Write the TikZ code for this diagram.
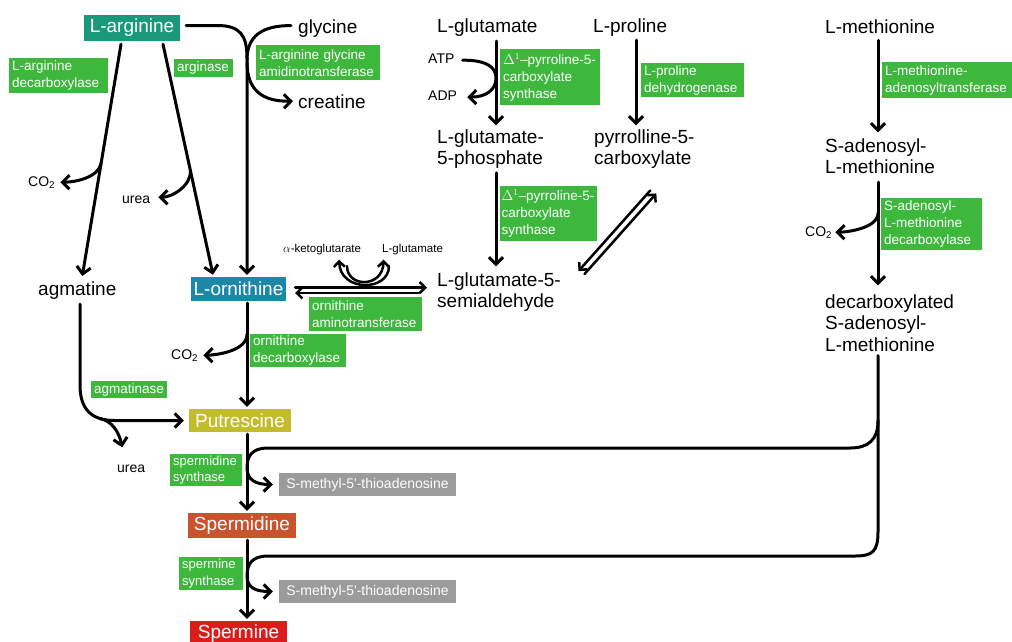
\documentclass[tikz,border=0pt]{standalone}
\usepackage{fontspec}
\setmainfont{Liberation Sans}
\usetikzlibrary{arrows.meta,calc}
\definecolor{enzg}{HTML}{3DB83D}
\definecolor{argc}{HTML}{1B977A}
\definecolor{ornc}{HTML}{1C88A6}
\definecolor{putc}{HTML}{C3BC2B}
\definecolor{spdc}{HTML}{C9532C}
\definecolor{spmc}{HTML}{DE1B1B}
\definecolor{mtac}{HTML}{9B9B9B}
\begin{document}
\begin{tikzpicture}[x=1pt,y=-1pt,
  ln/.style={line width=3pt, line cap=round},
  arr/.style={ln, -{Straight Barb[length=7pt,width=14pt]}},
  sarr/.style={line width=2.5pt, line cap=round, -{Straight Barb[length=5.5pt,width=11pt]}},
  met/.style={font=\fontsize{19}{21.5}\selectfont, inner sep=0pt, align=left},
  sm/.style={font=\fontsize{14}{16}\selectfont, inner sep=0pt},
  tiny/.style={font=\fontsize{11.5}{13}\selectfont, inner sep=0pt},
  cbox/.style={text=white, font=\fontsize{19}{21}\selectfont, inner sep=0pt},
  mtabox/.style={fill=mtac, text=white, font=\fontsize{14}{16}\selectfont, inner sep=0pt, minimum width=177pt, minimum height=23pt},
  enz/.style={fill=enzg, text=white, font=\fontsize{13.5}{17}\selectfont, align=left, inner xsep=3pt, inner ysep=0pt, anchor=north west},
]
\fill[white] (0,0) rectangle (1012,641);
\useasboundingbox (0,0) rectangle (1012,641);

% ---------- metabolites ----------
\node[cbox, fill=argc, minimum width=96pt, minimum height=26pt] (arg) at (132,28) {L-arginine};
\node[met, anchor=base west] (gly) at (298,33) {glycine};
\node[met, anchor=base west] (cre) at (298,108) {creatine};
\node[met, anchor=base west] (agm) at (38,295) {agmatine};
\node[cbox, fill=ornc, minimum width=95pt, minimum height=24pt] (orn) at (238.5,289) {L-ornithine};
\node[cbox, fill=putc, minimum width=102pt, minimum height=23pt] (put) at (240,420.5) {Putrescine};
\node[cbox, fill=spdc, minimum width=108pt, minimum height=25pt] (spd) at (242,525.5) {Spermidine};
\node[cbox, fill=spmc, minimum width=97pt, minimum height=26pt] (spm) at (238.5,634) {Spermine};
\node[mtabox] (mta1) at (367.5,484.5) {S-methyl-5\textquotesingle-thioadenosine};
\node[mtabox] (mta2) at (367.5,591.5) {S-methyl-5\textquotesingle-thioadenosine};

\node[met, anchor=base west] (glu) at (437,32) {L-glutamate};
\node[met, anchor=north west] (g5p) at (437,129.3) {L-glutamate-\\5-phosphate};
\node[met, anchor=north west] (gsa) at (437,272.3) {L-glutamate-5-\\semialdehyde};
\node[met, anchor=base west] (pro) at (593,32) {L-proline};
\node[met, anchor=north west] (p5c) at (594,129.3) {pyrrolline-5-\\carboxylate};
\node[met, anchor=base west] (met) at (825,33) {L-methionine};
\node[met, anchor=north west] (sam) at (825,138.3) {S-adenosyl-\\L-methionine};
\node[met, anchor=north west] (dsam) at (825,294.3) {decarboxylated\\S-adenosyl-\\L-methionine};

% ---------- small labels ----------
\node[sm, anchor=base west] (co2a) at (28,186) {CO\textsubscript{2}};
\node[sm, anchor=base west] (ureaa) at (122,203) {urea};
\node[sm, anchor=base west] (ureab) at (117,472) {urea};
\node[sm, anchor=base west] (co2o) at (171,359) {CO\textsubscript{2}};
\node[sm, anchor=base west] (co2s) at (805,236) {CO\textsubscript{2}};
\node[sm, anchor=base west] (atp) at (428,63) {ATP};
\node[sm, anchor=base west] (adp) at (428,100) {ADP};
\node[tiny, anchor=base west] (akg) at (283,252) {$\alpha$-ketoglutarate};
\node[tiny, anchor=base west] (glu2) at (382,252) {L-glutamate};

% ---------- enzymes ----------
\node[enz, text width=93pt, minimum height=35pt] (e1) at (9,58) {L-arginine\\decarboxylase};
\node[enz, text width=53pt, minimum height=18pt] (e2) at (174,59) {arginase};
\node[enz, text width=118pt, minimum height=35pt] (e3) at (256,45) {L-arginine glycine\\amidinotransferase};
\node[enz, text width=94pt, minimum height=56pt] (e4) at (500,49) {\mbox{$\Delta^{1}$–pyrroline-5-}\\carboxylate\\synthase};
\node[enz, text width=97pt, minimum height=34pt] (e5) at (641,63) {L-proline\\dehydrogenase};
\node[enz, text width=94pt, minimum height=55pt, inner xsep=1.5pt] (e6) at (500,186) {\mbox{$\Delta^{1}$–pyrroline-5-}\\carboxylate\\synthase};
\node[enz, text width=126pt, minimum height=36pt] (e7) at (882,62) {L-methionine-\\adenosyltransferase};
\node[enz, text width=95pt, minimum height=52pt] (e8) at (881,198) {S-adenosyl-\\L-methionine\\decarboxylase};
\node[enz, text width=107pt, minimum height=34pt] (e9) at (309,297) {ornithine\\aminotransferase};
\node[enz, text width=90pt, minimum height=33pt] (e10) at (250,334) {ornithine\\decarboxylase};
\node[enz, text width=70pt, minimum height=17pt] (e11) at (91,381) {agmatinase};
\node[enz, text width=66pt, minimum height=32pt, font=\fontsize{13}{16.5}\selectfont] (e12) at (170,454) {spermidine\\synthase};
\node[enz, text width=58pt, minimum height=33pt, font=\fontsize{13}{16.5}\selectfont] (e13) at (179,557) {spermine\\synthase};

% ---------- helper x-coordinates ----------
\coordinate (vx) at (247,0);
\coordinate (av) at (80,0);
\coordinate (gx) at (496,0);
\coordinate (px) at (636,0);
\coordinate (mx) at (878,0);

% L-arginine -> L-ornithine (right route), glycine, creatine
\draw[arr] ($(arg.east)+(6,-2.5)$) -- (217,25.5) .. controls (240,25.5) and (247,35) .. (247,58) -- ($(orn.north -| vx)+(0,-2)$);
\draw[ln] ($(gly.west)+(-7,-2.5)$) .. controls (262,25.5) and (247,36) .. (247,60);
\draw[arr] (247,62) .. controls (247,90) and (262,101.5) .. ($(cre.west)+(-5,0)$);

% L-arginine -> agmatine, CO2
\coordinate (a1) at ($(arg.south)+(-11,3)$);
\coordinate (a2) at ($(agm.north)+(5,-5)$);
\draw[arr] (a1) -- (a2);
\draw[arr] ($(a1)!0.515!(a2)$) .. controls +(-3,14) and +(15,0) .. ($(co2a.east)+(5,0)$);

% L-arginine -> L-ornithine (arginase), urea
\coordinate (b1) at ($(arg.south)+(31,3)$);
\coordinate (b2) at ($(orn.north)+(-25.5,-2)$);
\draw[arr] (b1) -- (b2);
\draw[arr] ($(b1)!0.545!(b2)$) .. controls +(2,15) and +(14,0) .. ($(ureaa.east)+(8,-2)$);

% agmatine -> putrescine, urea
\draw[arr] ($(agm.south -| av)+(0,5)$) -- (80,385) .. controls (80,410) and (92,420.5) .. (115,420.5) -- ($(put.west)+(-5,0)$);
\draw[arr] (100,418.5) .. controls (112,421) and (119,432) .. ($(ureab.north)+(-9,-17)$);

% L-ornithine -> putrescine, CO2
\coordinate (o1) at ($(orn.south -| vx)+(0,2)$);
\coordinate (o2) at ($(put.north -| vx)+(0,-2)$);
\draw[arr] (o1) -- (o2);
\draw[arr] ($(o1)!0.3!(o2)$) .. controls +(0,17) and +(12,0) .. ($(co2o.east)+(5,0)$);

% putrescine -> spermidine -> spermine
\coordinate (p1) at ($(put.south -| vx)+(0,2)$);
\coordinate (p2) at ($(spd.north -| vx)+(0,-2)$);
\draw[arr] (p1) -- (p2);
\coordinate (s1) at ($(spd.south -| vx)+(0,2)$);
\coordinate (s2) at ($(spm.north -| vx)+(0,-2)$);
\draw[arr] (s1) -- (s2);

% decarboxylated SAM -> aminopropyl donors
\coordinate (d0) at ($(dsam.south -| mx)+(0,4)$);
\coordinate (d1) at (878,532);
\draw[arr] (d0) -- (d1) .. controls (878,552) and (872,556) .. (855,556) -- (268,556) .. controls (252,556) and (247,564) .. (247,576) .. controls (247,588) and (256,591.5) .. ($(mta2.west)+(-6,0)$);
\draw[arr] ($(d0)!0.37!(d1)$) .. controls (878,440) and (868,448) .. (850,448) -- (268,448) .. controls (252,448) and (247,456) .. (247,468) .. controls (247,480) and (256,484.5) .. ($(mta1.west)+(-6,0)$);

% L-glutamate -> L-glutamate-5-phosphate, ATP/ADP
\draw[arr] ($(glu.south -| gx)+(0,5)$) -- ($(g5p.north -| gx)+(0,-4)$);
\draw[arr] ($(atp.east)+(8,2)$) .. controls (488,60) and (496,68) .. (496,78) .. controls (496,90) and (486,97) .. ($(adp.east)+(10,2)$);
\draw[arr] ($(g5p.south -| gx)+(0,4)$) -- ($(gsa.north -| gx)+(0,-6)$);

% L-proline -> pyrroline-5-carboxylate
\draw[arr] ($(pro.south -| px)+(0,4)$) -- ($(p5c.north -| px)+(0,-4)$);

% pyrroline-5-carboxylate <-> L-glutamate-5-semialdehyde
\coordinate (q1) at ($(gsa.east)+(23.5,-18)$);
\coordinate (q2) at ($(p5c.south)+(12,24.5)$);
\coordinate (q3) at ($(p5c.south)+(6,21.5)$);
\coordinate (q4) at ($(gsa.east)+(17.5,-21)$);
\draw[sarr] (q1) -- (q2);
\draw[sarr] (q3) -- (q4);

% L-ornithine <-> L-glutamate-5-semialdehyde
\draw[sarr] ($(orn.east)+(9,-1.5)$) -- ($(orn.east -| gsa.west)+(-10,-1.5)$);
\draw[sarr] ($(orn.east -| gsa.west)+(-18,4)$) -- ($(orn.east)+(9,4)$);
\draw[sarr] (389,266) .. controls (389,292) and (340,292) .. ($(akg.south)+(17,5)$);
\draw[sarr] (347,266) .. controls (347,288) and (383,288) .. ($(glu2.south)+(-29,5)$);

% L-methionine -> SAM -> dcSAM, CO2
\draw[arr] ($(met.south -| mx)+(0,7)$) -- ($(sam.north -| mx)+(0,-6)$);
\coordinate (m1) at ($(sam.south -| mx)+(0,8)$);
\coordinate (m2) at ($(dsam.north -| mx)+(0,-9)$);
\draw[arr] (m1) -- (m2);
\draw[arr] ($(m1)!0.3!(m2)$) .. controls +(0,15) and +(12,0) .. ($(co2s.east)+(3,0)$);
\end{tikzpicture}
\end{document}
